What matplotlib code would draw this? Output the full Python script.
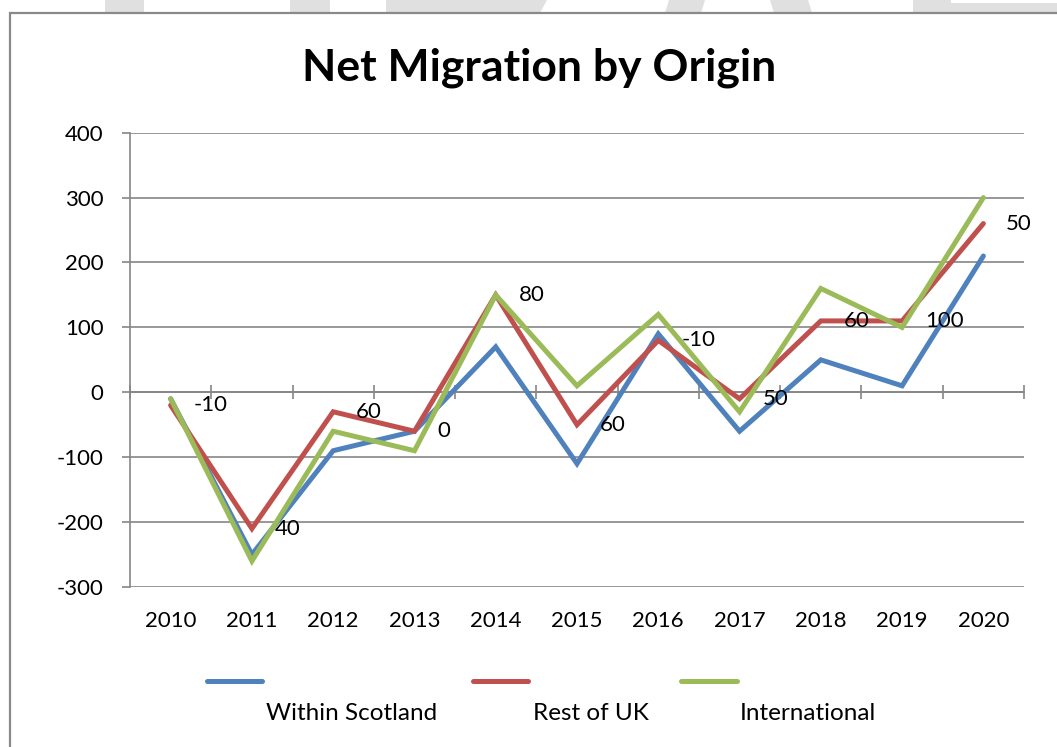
import matplotlib.pyplot as plt
from matplotlib.lines import Line2D
from matplotlib.patches import Polygon, Rectangle

plt.rcParams["font.family"] = ["Lato", "DejaVu Sans"]
plt.rcParams["axes.unicode_minus"] = False

# data
years = ["2010", "2011", "2012", "2013", "2014", "2015",
         "2016", "2017", "2018", "2019", "2020"]
series_names = ["Within Scotland", "Rest of UK", "International"]
within_scotland = [-10, -250, -90, -60, 70, -110, 90, -60, 50, 10, 210]
rest_of_uk = [-20, -210, -30, -60, 150, -50, 80, -10, 110, 110, 260]
international = [-10, -260, -60, -90, 150, 10, 120, -30, 160, 100, 300]
# data labels as they appear next to the Rest of UK points
point_labels = ["-10", "40", "60", "0", "80", "60", "-10", "50", "60", "100", "50"]
colors = ["#4F81BD", "#C0504D", "#9BBB59"]

W, H = 1057, 747
fig = plt.figure(figsize=(W / 100, H / 100), dpi=100)


def px(x, y):
    # pixel position (from top left) -> figure fraction
    return (x / W, 1 - y / H)


# faint watermark shapes above the chart frame
wm = "#e0e0e0"
for poly in [
    [(105, 0), (144, 0), (144, 13), (105, 13)],
    [(290, 0), (330, 0), (330, 13), (290, 13)],
    [(386, 0), (547, 0), (540, 13), (386, 13)],
    [(669, 0), (705, 0), (701, 13), (665, 13)],
    [(770, 0), (808, 0), (812, 13), (774, 13)],
    [(913, 0), (951, 0), (951, 3), (1057, 3), (1057, 13), (913, 13)],
]:
    fig.patches.append(Polygon([px(*p) for p in poly], closed=True,
                               transform=fig.transFigure, color=wm, lw=0))

# chart frame
x0, y0 = px(10, 13)
fig.patches.append(Rectangle((x0, -0.05), 1.1, y0 + 0.05, transform=fig.transFigure,
                             fill=False, ec="#898989", lw=1.6))

ax = fig.add_axes([130 / W, 1 - 587 / H, (1024 - 130) / W, (587 - 132.7) / H])
xs = list(range(len(years)))

for vals, c in zip([within_scotland, rest_of_uk, international], colors):
    ax.plot(xs, vals, color=c, lw=3.6, solid_capstyle="round",
            solid_joinstyle="miter", zorder=3)

for x, v, lab in zip(xs, rest_of_uk, point_labels):
    ax.annotate(lab, (x, v), xytext=(16.5, 0), textcoords="offset points",
                ha="left", va="center", fontsize=16, zorder=4)

ax.set_xlim(-0.5, len(years) - 0.5)
ax.set_ylim(-300, 400)
ax.set_yticks(range(-300, 401, 100))
ax.tick_params(axis="y", length=6, width=1.2, color="#868686",
               labelsize=16, pad=13)
ax.yaxis.grid(True, color="#868686", lw=1.2)
ax.set_axisbelow(True)

# category axis crosses at zero, labels sit at the bottom
ax.spines["bottom"].set_position(("data", 0))
ax.set_xticks([i - 0.5 for i in range(len(years) + 1)])
ax.set_xticklabels([])
ax.tick_params(axis="x", direction="inout", length=10, width=1.2, color="#868686")
for x, yr in zip(xs, years):
    ax.text(x, -0.052, yr, transform=ax.get_xaxis_transform(),
            ha="center", va="top", fontsize=16)

for side in ["top", "right"]:
    ax.spines[side].set_visible(False)
for side in ["left", "bottom"]:
    ax.spines[side].set_color("#868686")
    ax.spines[side].set_linewidth(1.2)

fig.text(539 / W, 1 - 80 / H, "Net Migration by Origin", ha="center", va="baseline",
         fontsize=32, fontweight="bold")

# legend: line sample above-left of each name
legend_lines = [(207, 262), (473, 528), (681, 737)]
legend_text_x = [266, 533, 740]
for (lx0, lx1), tx, name, c in zip(legend_lines, legend_text_x, series_names, colors):
    fig.add_artist(Line2D([lx0 / W, lx1 / W], [1 - 681 / H] * 2, color=c, lw=3.6,
                          solid_capstyle="round", transform=fig.transFigure))
    fig.text(tx / W, 1 - 713 / H, name, ha="left", va="center", fontsize=17.5)

fig.savefig("out.png", dpi=100)
